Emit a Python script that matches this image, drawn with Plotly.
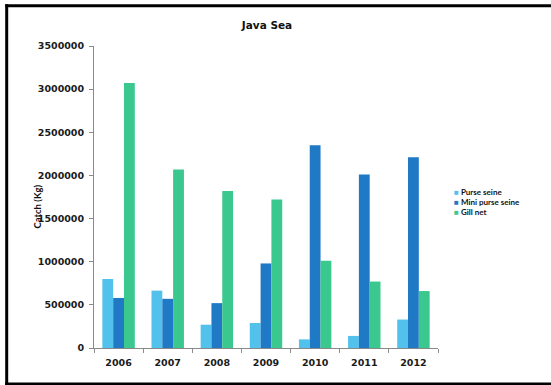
import plotly.graph_objects as go

# Annual catch by gear type, Java Sea
years = ["2006", "2007", "2008", "2009", "2010", "2011", "2012"]
series_names = ["Purse seine", "Mini purse seine", "Gill net"]
purse_seine = [800000, 665000, 270000, 290000, 100000, 140000, 330000]
mini_purse_seine = [580000, 570000, 520000, 980000, 2350000, 2010000, 2210000]
gill_net = [3070000, 2070000, 1820000, 1720000, 1010000, 770000, 660000]
y_ticks = [0, 500000, 1000000, 1500000, 2000000, 2500000, 3000000, 3500000]

colors = ["#52c1ec", "#1f79c4", "#3ac88e"]

W, H = 551, 385
L, R, T, B = 94, 113, 46, 37
PW, PH = W - L - R, H - T - B


def px_x(px):
    return (px - L) / PW


def px_y(py):
    return (H - B - py) / PH


fig = go.Figure()
for name, vals, col in zip(series_names, [purse_seine, mini_purse_seine, gill_net], colors):
    fig.add_trace(go.Bar(x=years, y=vals, name=name, marker_color=col,
                         marker_line_width=0, showlegend=False))

tick_font = dict(family="DejaVu Sans", size=9.5, color="#1a1a1a", weight="bold")

fig.update_layout(
    width=W, height=H,
    margin=dict(l=L, r=R, t=T, b=B, pad=0),
    paper_bgcolor="white", plot_bgcolor="white",
    barmode="group", bargap=0.34, bargroupgap=0,
    title=dict(text="<b>Java Sea</b>", x=267 / W, xref="container", xanchor="center",
               y=1 - 25 / H, yref="container", yanchor="middle",
               font=dict(family="DejaVu Sans", size=10.5, color="#111")),
    xaxis=dict(showline=True, linecolor="#8a8a8a", linewidth=1,
               ticks="outside", tickson="boundaries", ticklen=4, tickcolor="#8a8a8a",
               tickfont=tick_font, showgrid=False, ticklabelstandoff=6),
    yaxis=dict(range=[0, 3500000], tickvals=y_ticks, tickformat="d",
               showline=True, linecolor="#8a8a8a", linewidth=1,
               ticks="outside", ticklen=4, tickcolor="#8a8a8a",
               tickfont=tick_font, showgrid=False, zeroline=False,
               ticklabelstandoff=3),
    showlegend=False,
)

# y-axis title
fig.add_annotation(text="<b>Catch (Kg)</b>", textangle=-90, xref="paper", yref="paper",
                   x=px_x(30), y=px_y(207), showarrow=False,
                   font=dict(family="Lato", size=9.5, color="#111"))

# legend drawn as compact text rows
row_y = [192, 202, 212]
for name, col, ry in zip(series_names, colors, row_y):
    fig.add_annotation(
        text=f"<span style='color:{col}'>■</span> <b>{name}</b>",
        xref="paper", yref="paper", x=px_x(452), y=px_y(ry),
        xanchor="left", yanchor="middle", showarrow=False,
        font=dict(family="Lato", size=8, color="#111"))

# outer frame
frame = dict(color="black", width=3)
fig.add_shape(type="line", xref="paper", yref="paper",
              x0=px_x(6.7), x1=px_x(6.7), y0=px_y(386), y1=px_y(4.3), line=frame)
fig.add_shape(type="line", xref="paper", yref="paper",
              x0=px_x(5.2), x1=px_x(560), y0=px_y(5.8), y1=px_y(5.8), line=frame)
fig.add_shape(type="line", xref="paper", yref="paper",
              x0=px_x(5.2), x1=px_x(560), y0=px_y(384), y1=px_y(384), line=frame)

fig.write_html("out.html")
